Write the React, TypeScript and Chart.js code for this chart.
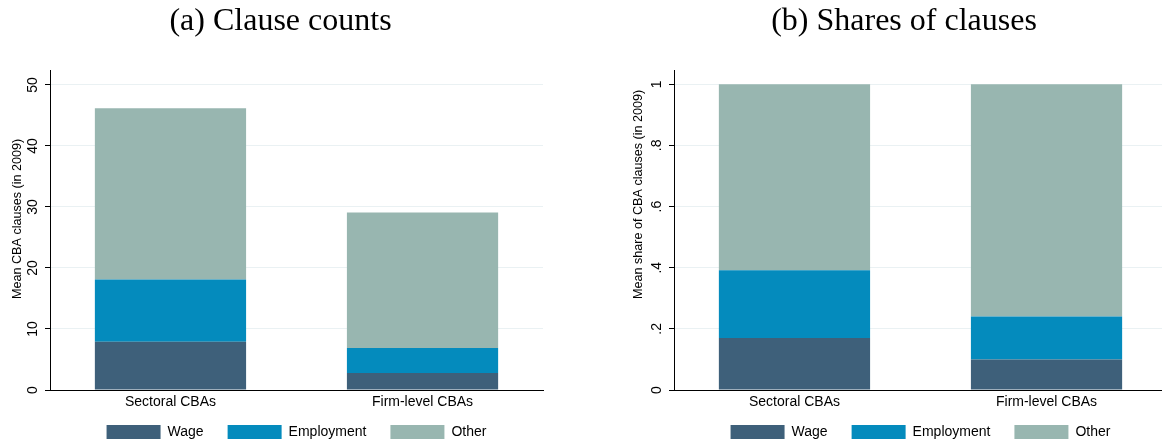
import React, { useEffect, useRef } from "react";
import { Chart, registerables } from "chart.js";

Chart.register(...registerables);

// ---- data ----
const categories = ["Sectoral CBAs", "Firm-level CBAs"];
const seriesNames = ["Wage", "Employment", "Other"];
const seriesColors = ["#3e607a", "#048bbd", "#98b6b0"];

const countWage = [7.9, 2.8];
const countEmployment = [10.2, 4.1];
const countOther = [28.1, 22.2];

const shareWage = [0.17, 0.1];
const shareEmployment = [0.222, 0.14];
const shareOther = [0.608, 0.76];

const countTicks = [0, 10, 20, 30, 40, 50];
const countTickLabels = ["0", "10", "20", "30", "40", "50"];
const shareTicks = [0, 0.2, 0.4, 0.6, 0.8, 1];
const shareTickLabels = ["0", ".2", ".4", ".6", ".8", "1"];

const FONT = '"Liberation Sans", Arial, Helvetica, sans-serif';
const SERIF = '"Liberation Serif", "Times New Roman", serif';

const yTitlePlugin = {
  id: "yTitle",
  afterDraw(chart: any, _args: any, opts: any) {
    const { ctx, chartArea } = chart;
    ctx.save();
    ctx.translate(chartArea.left - opts.dx, chartArea.bottom - opts.dy);
    ctx.rotate(-Math.PI / 2);
    ctx.font = `${opts.size}px ${FONT}`;
    ctx.fillStyle = "#000";
    ctx.textAlign = "left";
    ctx.textBaseline = "middle";
    ctx.fillText(opts.text, 0, 0);
    ctx.restore();
  },
};

// let the category labels use the room under the axis (the legend sits close below)
const xLabelRoomPlugin = {
  id: "xLabelRoom",
  afterLayout(chart: any) {
    const x = chart.scales.x;
    if (x) x.bottom = x.top + 24;
  },
};

type PanelProps = {
  left: number;
  title: string;
  yTitle: string;
  series: number[][];
  yMax: number;
  ticks: number[];
  tickLabels: string[];
  tickPadding: number;
  padLeft: number;
  yTitleDx: number;
  yTitleDy: number;
};

function Panel(p: PanelProps) {
  const ref = useRef<HTMLCanvasElement | null>(null);
  useEffect(() => {
    if (!ref.current) return;
    const datasets = seriesNames.map((name, si) => ({
      label: name,
      data: categories.map((_, ci) => ({ x: ci, y: p.series[si][ci] })),
      backgroundColor: seriesColors[si],
      borderWidth: 0,
      barPercentage: 0.6,
      categoryPercentage: 1,
    }));
    const chart = new Chart(ref.current, {
      type: "bar",
      data: { datasets },
      plugins: [yTitlePlugin, xLabelRoomPlugin],
      options: {
        animation: false,
        responsive: false,
        devicePixelRatio: 1,
        layout: { padding: { left: p.padLeft, right: 50, top: 0, bottom: 0 } },
        plugins: {
          tooltip: { enabled: false },
          title: {
            display: true,
            text: p.title,
            color: "#000",
            font: { family: SERIF, size: 32, weight: "normal" },
            padding: { top: 2, bottom: 29.6 },
          },
          legend: {
            display: true,
            position: "bottom",
            fullSize: false,
            labels: {
              boxWidth: 54,
              boxHeight: 14,
              padding: 24,
              color: "#000",
              font: { family: FONT, size: 14 },
            },
          },
          yTitle: { text: p.yTitle, size: 12.6, dx: p.yTitleDx, dy: p.yTitleDy },
        } as any,
        scales: {
          x: {
            type: "linear",
            stacked: true,
            min: -0.478,
            max: categories.length - 1 + 0.478,
            offset: false,
            grid: { display: false, drawTicks: false, tickLength: 0 },
            border: { display: true, color: "#000", width: 1 },
            afterBuildTicks: (scale: any) => {
              scale.ticks = categories.map((_, i) => ({ value: i }));
            },
            afterFit: (scale: any) => {
              scale.height = 11;
            },
            ticks: {
              autoSkip: false,
              maxRotation: 0,
              minRotation: 0,
              padding: 4,
              color: "#000",
              font: { family: FONT, size: 14 },
              callback: (v: any) => categories[Math.round(Number(v))] ?? "",
            },
          },
          y: {
            type: "linear",
            stacked: true,
            min: 0,
            max: p.yMax,
            afterBuildTicks: (scale: any) => {
              scale.ticks = p.ticks.map((v) => ({ value: v }));
            },
            afterFit: (scale: any) => {
              scale.width = 50 - p.padLeft;
            },
            grid: {
              display: true,
              color: "#eaf1f3",
              tickColor: "#000",
              tickLength: 5,
              lineWidth: 1,
            },
            border: { display: true, color: "#000", width: 1 },
            ticks: {
              minRotation: 90,
              maxRotation: 90,
              crossAlign: "center",
              padding: p.tickPadding,
              color: "#000",
              font: { family: FONT, size: 14 },
              callback: (_v: any, i: number) => p.tickLabels[i],
            },
          },
        },
      } as any,
    });
    return () => chart.destroy();
  }, []);
  return (
    <canvas
      ref={ref}
      width={593}
      height={449}
      style={{ position: "absolute", left: p.left, top: 0, width: 593, height: 449, display: "block" }}
    />
  );
}

export default function App() {
  return (
    <div
      style={{
        position: "fixed",
        left: 0,
        top: 0,
        width: 1162,
        height: 444,
        overflow: "hidden",
        background: "#fff",
      }}
    >
      <Panel
        left={0}
        title="(a) Clause counts"
        yTitle="Mean CBA clauses (in 2009)"
        series={[countWage, countEmployment, countOther]}
        yMax={52.45}
        ticks={countTicks}
        tickLabels={countTickLabels}
        tickPadding={4.5}
        padLeft={18}
        yTitleDx={32}
        yTitleDy={91}
      />
      <Panel
        left={624}
        title="(b) Shares of clauses"
        yTitle="Mean share of CBA clauses (in 2009)"
        series={[shareWage, shareEmployment, shareOther]}
        yMax={1.0466}
        ticks={shareTicks}
        tickLabels={shareTickLabels}
        tickPadding={6.5}
        padLeft={17}
        yTitleDx={35}
        yTitleDy={91}
      />
    </div>
  );
}
